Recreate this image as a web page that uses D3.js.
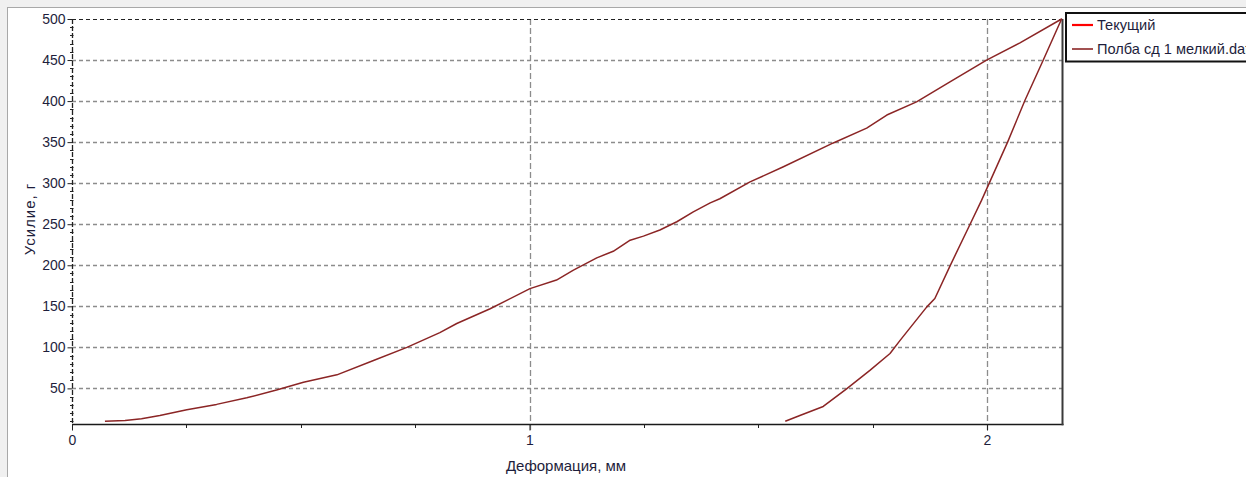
<!DOCTYPE html>
<html>
<head>
<meta charset="utf-8">
<script src="https://cdn.jsdelivr.net/npm/d3@7/dist/d3.min.js"></script>
<style>
  html, body { margin: 0; padding: 0; background: #f0f0f0; overflow: hidden; }
  svg { display: block; }
  text { font-family: "Liberation Sans", Arial, sans-serif; }
</style>
</head>
<body>
<svg id="chart" width="1246" height="477"></svg>
<script>
// Deformation (mm) and force (g) of the sample: loading to the peak, then unloading
const deformation = [
  0.072, 0.116, 0.152, 0.192, 0.251, 0.316, 0.382, 0.447, 0.506, 0.579,
  0.659, 0.732, 0.804, 0.841, 0.914, 1.001, 1.059, 1.096, 1.147, 1.183,
  1.220, 1.249, 1.285, 1.322, 1.358, 1.395, 1.416, 1.482, 1.555, 1.664,
  1.737, 1.781, 1.846, 1.919, 1.999, 2.072, 2.163,
  2.123, 2.083, 2.045, 1.988, 1.963, 1.919, 1.886, 1.868, 1.810, 1.788,
  1.744, 1.693, 1.642, 1.591, 1.559
];
const force = [
  10, 11, 13, 17, 24, 30.5, 38.5, 48, 57.5, 66.5,
  84, 100, 118, 129, 147, 171.5, 182, 194, 209, 217,
  230.5, 235.5, 243, 253, 265, 276, 281, 301.5, 320, 349,
  367, 383, 399, 423.5, 450, 471, 500,
  450, 401, 350, 279, 250, 199, 159.5, 149, 108.5, 92.5,
  72, 49.5, 28, 17, 10
];

const xMajorTicks = [0, 1, 2];
const xMinorTicks = [0.25, 0.5, 0.75, 1.25, 1.5, 1.75];
const yMajorTicks = [50, 100, 150, 200, 250, 300, 350, 400, 450, 500];
const yMinorTicks = d3.range(10, 501, 10).filter(v => v % 50 !== 0);

const legendNames = ["Текущий", "Полба сд 1 мелкий.dat"];
const legendColors = ["#ff0000", "#8b2525"];

const xTitle = "Деформация, мм";
const yTitle = "Усилие, г";

const svg = d3.select("#chart");

// window panel
svg.append("rect").attr("x", 0).attr("y", 0).attr("width", 1246).attr("height", 477).attr("fill", "#f0f0f0");
svg.append("rect").attr("x", 7.5).attr("y", 7.5).attr("width", 1250).attr("height", 480)
  .attr("fill", "#ffffff").attr("stroke", "#a8a8a8").attr("stroke-width", 1);

const plot = { left: 72, right: 1062.5, top: 19, bottom: 424.5 };

const x = d3.scaleLinear().domain([0, 2.165]).range([plot.left, plot.right]);
const y = d3.scaleLinear().domain([6, 500]).range([plot.bottom, plot.top]);

// horizontal grid
svg.append("g").selectAll("line").data(yMajorTicks.filter(v => v < 500)).join("line")
  .attr("x1", plot.left).attr("x2", plot.right)
  .attr("y1", d => Math.round(y(d)) + 0.5).attr("y2", d => Math.round(y(d)) + 0.5)
  .attr("stroke", "#8c8c8c").attr("stroke-width", 1.3).attr("stroke-dasharray", "4,3");

// vertical grid
svg.append("g").selectAll("line").data(xMajorTicks.filter(v => v > 0)).join("line")
  .attr("x1", d => Math.round(x(d)) + 0.5).attr("x2", d => Math.round(x(d)) + 0.5)
  .attr("y1", plot.top).attr("y2", plot.bottom + 6)
  .attr("stroke", "#8c8c8c").attr("stroke-width", 1.3).attr("stroke-dasharray", "6,3");

// frame: dashed top and left, solid bottom and right
svg.append("line").attr("x1", plot.left).attr("x2", plot.right).attr("y1", plot.top + 0.5).attr("y2", plot.top + 0.5)
  .attr("stroke", "#222").attr("stroke-width", 1.2).attr("stroke-dasharray", "4,3");
svg.append("line").attr("x1", plot.left + 0.5).attr("x2", plot.left + 0.5).attr("y1", plot.top).attr("y2", plot.bottom)
  .attr("stroke", "#222").attr("stroke-width", 1.3).attr("stroke-dasharray", "5,2");
svg.append("line").attr("x1", plot.left).attr("x2", plot.right + 1).attr("y1", plot.bottom).attr("y2", plot.bottom)
  .attr("stroke", "#1a1a1a").attr("stroke-width", 1.6);
svg.append("line").attr("x1", plot.right).attr("x2", plot.right).attr("y1", plot.top).attr("y2", plot.bottom + 0.8)
  .attr("stroke", "#3a3a3a").attr("stroke-width", 2);

// y axis ticks and labels
const yAxis = d3.axisLeft(y).tickValues(yMajorTicks).tickSize(5).tickPadding(2).tickFormat(d3.format("d"));
const gy = svg.append("g").attr("transform", `translate(${plot.left + 0.5},0)`).call(yAxis);
gy.select(".domain").remove();
gy.selectAll(".tick line").attr("stroke", "#222");
gy.selectAll(".tick text").attr("font-size", 14).attr("fill", "#1e1e3c")
  .attr("font-family", "'Liberation Sans', Arial, sans-serif");
svg.append("g").selectAll("line").data(yMinorTicks).join("line")
  .attr("x1", plot.left - 2).attr("x2", plot.left + 1.5)
  .attr("y1", d => Math.round(y(d)) + 0.5).attr("y2", d => Math.round(y(d)) + 0.5)
  .attr("stroke", "#222");

// x axis ticks and labels
const xAxis = d3.axisBottom(x).tickValues(xMajorTicks).tickSize(6).tickPadding(5).tickFormat(d3.format("d"));
const gx = svg.append("g").attr("transform", `translate(0,${plot.bottom})`).call(xAxis);
gx.select(".domain").remove();
gx.selectAll(".tick line").attr("stroke", "#222");
gx.selectAll(".tick text").attr("font-size", 14).attr("fill", "#1e1e3c")
  .attr("font-family", "'Liberation Sans', Arial, sans-serif");
svg.append("g").selectAll("line").data(xMinorTicks).join("line")
  .attr("x1", d => Math.round(x(d)) + 0.5).attr("x2", d => Math.round(x(d)) + 0.5)
  .attr("y1", plot.bottom).attr("y2", plot.bottom + 3.5)
  .attr("stroke", "#222");

// axis titles
svg.append("text").attr("x", 566).attr("y", 471).attr("text-anchor", "middle")
  .attr("font-size", 15).attr("fill", "#1e1e3c").text(xTitle);
svg.append("text").attr("transform", "translate(35,219) rotate(-90)").attr("text-anchor", "middle")
  .attr("font-size", 15).attr("letter-spacing", 1).attr("fill", "#1e1e3c").text(yTitle);

// measured curve
const pts = deformation.map((d, i) => [d, force[i]]);
const line = d3.line().x(d => x(d[0])).y(d => y(d[1]));
svg.append("path").datum(pts).attr("d", line)
  .attr("fill", "none").attr("stroke", legendColors[1]).attr("stroke-width", 1.5)
  .attr("stroke-linejoin", "round");

// legend
const lg = svg.append("g");
lg.append("rect").attr("x", 1066).attr("y", 13).attr("width", 200).attr("height", 48.5)
  .attr("fill", "#ffffff").attr("stroke", "#111").attr("stroke-width", 2);
legendNames.forEach((name, i) => {
  const cy = 25 + i * 24;
  lg.append("line").attr("x1", 1072).attr("x2", 1093).attr("y1", cy).attr("y2", cy)
    .attr("stroke", legendColors[i]).attr("stroke-width", i === 0 ? 2.2 : 1.6);
  lg.append("text").attr("x", 1097).attr("y", cy + 5).attr("font-size", 14.6)
    .attr("fill", "#1e1e3c").text(name);
});
</script>
</body>
</html>
